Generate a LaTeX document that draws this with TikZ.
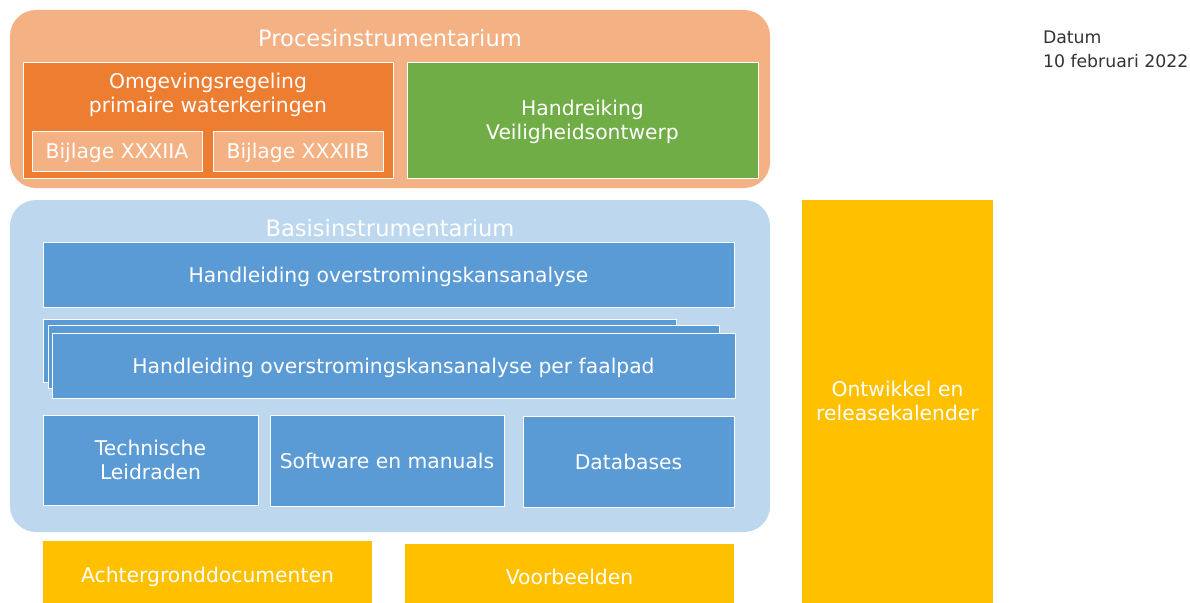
\documentclass[tikz,border=0pt]{standalone}
\usepackage{fontspec}
\setmainfont{DejaVu Sans}
\usetikzlibrary{positioning}

\definecolor{lichtoranje}{HTML}{F4B183}
\definecolor{oranje}{HTML}{ED7D31}
\definecolor{groen}{HTML}{70AD47}
\definecolor{lichtblauw}{HTML}{BDD7EE}
\definecolor{blauw}{HTML}{5B9BD5}
\definecolor{geel}{HTML}{FFC000}

\begin{document}
\begin{tikzpicture}[x=1pt, y=-1pt,
%remember picture,
every node/.style={inner sep=0pt, outer sep=0pt, text=white, align=center,
    font=\fontsize{20.3}{24}\selectfont
    },
laag/.style={rounded corners=26pt, inner sep=0pt},
titel/.style={font=\fontsize{22.6}{26}\selectfont},
blok/.style={draw=white, line width=0.8pt, text depth=0pt},
los/.style={fill=geel, text depth=0pt}
]
\clip (0,0) rectangle (1190,602);

% procesinstrumentarium
\node[laag, fill=lichtoranje, minimum width=760, minimum height=178] (proces) at (390,99) {};
\node[titel] (procestitel) at (390,38) {Procesinstrumentarium};
\node[blok, fill=oranje, minimum width=370, minimum height=116] (omgeving) at (208,120) {};
\node (omgevingtxt) at (208,95) {Omgevingsregeling\\primaire waterkeringen};
\node[blok, fill=lichtoranje, minimum width=170, minimum height=40] (bijlageA) at (117,151) {Bijlage XXXIIA};
\node[blok, fill=lichtoranje, minimum width=170, minimum height=40] (bijlageB) at (298,151) {Bijlage XXXIIB};
\node[blok, fill=groen, minimum width=351, minimum height=116] (handreiking) at (582.5,120) {Handreiking\\Veiligheidsontwerp};

% basisinstrumentarium
\node[laag, fill=lichtblauw, minimum width=760, minimum height=332] (basis) at (390,366) {};
\node[titel] (basistitel) at (390,228) {Basisinstrumentarium};
\node[blok, fill=blauw, minimum width=691, minimum height=65] (hoa) at (388.5,275) {Handleiding overstromingskansanalyse};
\foreach \n/\x/\y/\w in {1/359.5/350.5/633, 2/383.5/356.5/671}
    \node[blok, fill=blauw, minimum width=\w, minimum height=63] (stapel\n) at (\x,\y) {};
\node[blok, fill=blauw, minimum width=683, minimum height=65] (faalpad) at (393.5,365.5) {Handleiding overstromingskansanalyse per faalpad};
\node[blok, fill=blauw, minimum width=215, minimum height=90] (leidraden) at (150.5,460) {Technische\\Leidraden};
\node[blok, fill=blauw, minimum width=234, minimum height=91] (software) at (387,460.5) {Software en manuals};
\node[blok, fill=blauw, minimum width=211, minimum height=91] (databases) at (628.5,461.5) {Databases};

% los
\node[los, minimum width=329, minimum height=68] (achtergrond) at (207.5,575) {Achtergronddocumenten};
\node[los, minimum width=329, minimum height=66] (voorbeelden) at (569.5,577) {Voorbeelden};
\node[los, minimum width=191, minimum height=403] (kalender) at (897.5,401) {Ontwikkel en\\releasekalender};

\node[anchor=west, align=left, text=black!80, font=\fontsize{17.3}{24}\selectfont] (datum) at (1043,49) {Datum\\10 februari 2022};

\end{tikzpicture}
\end{document}
